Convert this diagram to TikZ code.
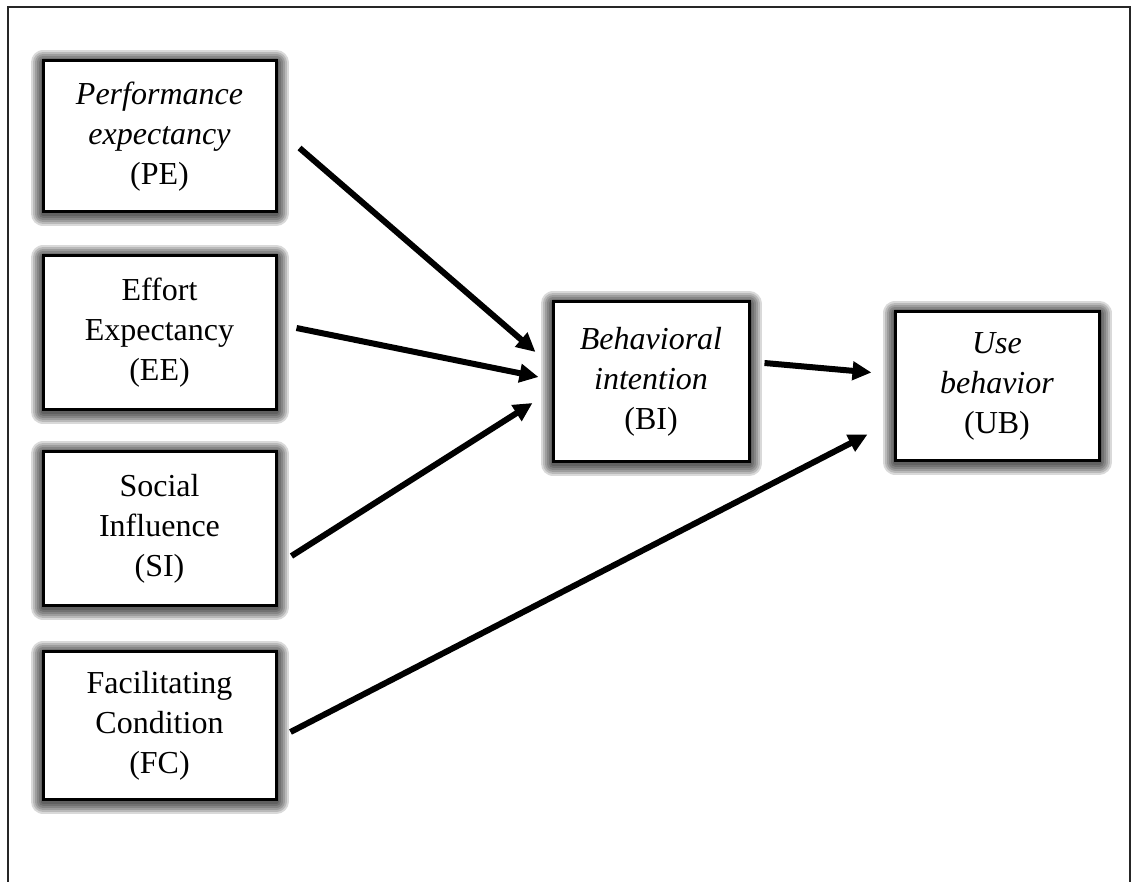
\documentclass[tikz,border=0pt]{standalone}
\usepackage{fontspec}
\setmainfont{Liberation Serif}
\usetikzlibrary{arrows.meta,positioning}
\tikzset{
  glow/.style={preaction={draw=black, line join=round, opacity=0.15,
      line width=#1, transform canvas={yshift=-0.8pt}}},
  glowbox/.style={draw, line width=1.5pt, fill=white, align=center,
    minimum width=116.5pt, inner sep=2pt,
    font=\fontsize{16}{20}\selectfont,
    glow=12.5pt, glow=10.5pt, glow=8.5pt, glow=6.5pt, glow=4.5pt, glow=2.5pt},
  link/.style={line width=3pt, -{Triangle[length=9.5pt,width=9pt]}},
  frame/.style={line width=1pt, black!85}
}

\begin{document}
\begin{tikzpicture}[x=0.5pt, y=-0.5pt]
    \useasboundingbox (0,0) rectangle (1132,882);

    % outer frame, open at the bottom
    \draw[frame] (8,882) -- (8,7) -- (1130,7) -- (1130,882);

    % constructs
    \node(pe)[glowbox, minimum height=75.5pt] at (159.5,136.5)
        {\textit{Performance}\\ \textit{expectancy}\\ (PE)};
    \node(ee)[glowbox, minimum height=77pt, below = 20.5pt of pe]
        {Effort\\ Expectancy\\ (EE)};
    \node(si)[glowbox, minimum height=77pt, below = 19.5pt of ee]
        {Social\\ Influence\\ (SI)};
    \node(fc)[glowbox, minimum height=74pt, below = 21.5pt of si]
        {Facilitating\\ Condition\\ (FC)};

    \node(bi)[glowbox, minimum width=98pt, minimum height=80pt] at (651,382)
        {\textit{Behavioral}\\ \textit{intention}\\ (BI)};
    \node(ub)[glowbox, minimum width=102pt, minimum height=74.5pt,
        right = 71.5pt of bi, yshift=-2pt]
        {\textit{Use}\\ \textit{behavior}\\ (UB)};

    % paths
    \draw[link] ([shift={(22,11.5)}]pe.east) -- ([shift={(-16,-30)}]bi.west);
    \draw[link] ([shift={(19,-5)}]ee.east) -- ([shift={(-13,-5)}]bi.west);
    \draw[link] ([shift={(14,27)}]si.east) -- ([shift={(-19,21)}]bi.west);
    \draw[link] ([shift={(14,-19)}]bi.east) -- ([shift={(-22,-13.5)}]ub.west);
    \draw[link] ([shift={(13,6)}]fc.east) -- ([shift={(-26,48.5)}]ub.west);

\end{tikzpicture}
\end{document}
